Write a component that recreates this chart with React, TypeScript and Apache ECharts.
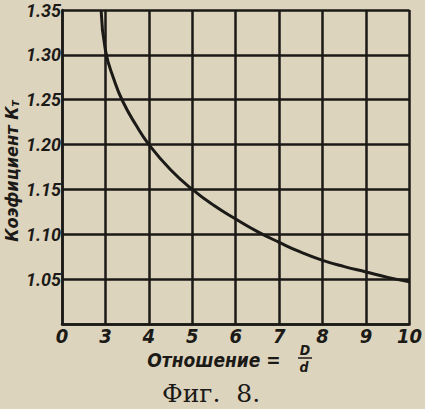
import React, { useEffect, useRef } from "react";
import * as echarts from "echarts";

// Axis positions: position 2 is the broken origin labelled "0", then 3..10
const ratioPos = [2.9, 3, 3.2, 3.4, 3.7, 4, 4.5, 5, 5.5, 6, 6.5, 7, 7.5, 8, 8.5, 9, 9.5, 10];
const coefKt = [1.35, 1.305, 1.272, 1.248, 1.222, 1.2, 1.172, 1.15, 1.132, 1.117, 1.103, 1.091, 1.08, 1.071, 1.064, 1.058, 1.052, 1.047];
const xTickLabels: Record<number, string> = { 2: "0", 3: "3", 4: "4", 5: "5", 6: "6", 7: "7", 8: "8", 9: "9", 10: "10" };
const yTickLabels = ["1.05", "1.10", "1.15", "1.20", "1.25", "1.30", "1.35"];

const INK = "#1b1a17";
const PAPER = "#ddd4be";
const COND = "'DejaVu Sans Condensed', 'DejaVu Sans', sans-serif";
const ROBOTO = "Roboto, 'Liberation Sans', sans-serif";

export default function App() {
  const ref = useRef<HTMLDivElement>(null);
  useEffect(() => {
    if (!ref.current) return;
    const chart = echarts.init(ref.current, null, { renderer: "svg" });
    const bi = { fontStyle: "italic" as const, fontWeight: "bold" as const };
    chart.setOption({
      animation: false,
      backgroundColor: PAPER,
      grid: { left: 62, right: 8, top: 10, bottom: 85 },
      xAxis: {
        type: "value",
        min: 2,
        max: 10,
        interval: 1,
        axisLine: { show: true, lineStyle: { color: INK, width: 2.5 } },
        axisTick: { show: false },
        splitLine: { show: true, lineStyle: { color: INK, width: 2.5 } },
        axisLabel: {
          ...bi,
          fontFamily: COND,
          color: INK,
          fontSize: 20,
          margin: 2,
          formatter: (v: number) => xTickLabels[Math.round(v)] ?? "",
        },
      },
      yAxis: {
        type: "value",
        min: 1.0,
        max: 1.35,
        interval: 0.05,
        axisLine: { show: true, lineStyle: { color: INK, width: 2.5 } },
        axisTick: { show: false },
        splitLine: { show: true, lineStyle: { color: INK, width: 2.5 } },
        axisLabel: {
          ...bi,
          fontFamily: ROBOTO,
          color: INK,
          fontSize: 18,
          margin: 1,
          formatter: (v: number) => {
            const s = v.toFixed(2);
            return yTickLabels.includes(s) ? s : "";
          },
        },
      },
      series: [
        {
          type: "line",
          data: ratioPos.map((x, i) => [x, coefKt[i]]),
          smooth: true,
          symbol: "none",
          lineStyle: { color: INK, width: 3 },
          clip: true,
        },
      ],
      graphic: [
        {
          type: "text",
          x: 11,
          y: 171,
          rotation: Math.PI / 2,
          style: {
            text: "{a|Коэфициент К}{b|т}",
            align: "center",
            verticalAlign: "middle",
            rich: {
              a: { ...bi, fontFamily: COND, fontSize: 18, fill: INK },
              b: { ...bi, fontFamily: COND, fontSize: 12, fill: INK, padding: [7, 0, 0, 0] },
            },
          },
        },
        {
          type: "text",
          x: 214,
          y: 360,
          style: {
            text: "Отношение =",
            ...bi,
            fontFamily: COND,
            fill: INK,
            fontSize: 19,
            align: "center",
            verticalAlign: "middle",
          },
        },
        {
          type: "text",
          x: 305,
          y: 350,
          style: { text: "D", ...bi, fontFamily: COND, fill: INK, fontSize: 14, align: "center", verticalAlign: "middle" },
        },
        {
          type: "line",
          shape: { x1: 298, y1: 358, x2: 312, y2: 358 },
          style: { stroke: INK, lineWidth: 1.5 },
        },
        {
          type: "text",
          x: 304,
          y: 367,
          style: { text: "d", ...bi, fontFamily: COND, fill: INK, fontSize: 14, align: "center", verticalAlign: "middle" },
        },
        {
          type: "text",
          x: 211,
          y: 393,
          style: {
            text: "Фиг.  8.",
            fontFamily: "'DejaVu Serif', 'Liberation Serif', serif",
            fontSize: 25,
            fill: INK,
            align: "center",
            verticalAlign: "middle",
          },
        },
      ],
    });
    return () => chart.dispose();
  }, []);
  return (
    <div
      ref={ref}
      style={{ position: "absolute", left: 0, top: 0, width: 425, height: 409 }}
    />
  );
}
